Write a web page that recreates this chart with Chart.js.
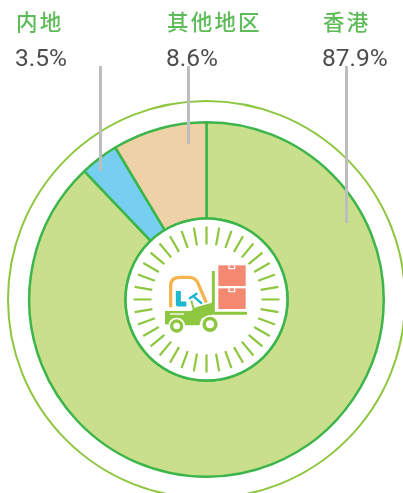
<!DOCTYPE html>
<html>
<head>
<meta charset="utf-8">
<style>
  html, body { margin: 0; padding: 0; background: #fff; overflow: hidden; }
  #wrap { width: 403px; height: 493px; }
</style>
<script src="https://cdn.jsdelivr.net/npm/chart.js@4"></script>
</head>
<body>
<div id="wrap"><canvas id="chart" width="403" height="493"></canvas></div>
<script>
const categories = ["香港", "内地", "其他地区"];
const shares = [87.9, 3.5, 8.6];
const sliceColors = ["#cadf8b", "#76cff0", "#efd1a8"];

// label column for each category: x of text, x of leader line, leader line end
const labelX = [323, 16, 167];
const leaderX = [346.5, 100.5, 188.5];
const leaderEnd = [223, 171, 144];

function drawForklift(ctx) {
  // coordinates here are in a 3x grid, it was easier to trace that way
  ctx.save();
  ctx.translate(120, 210);
  ctx.scale(1 / 3, 1 / 3);
  ctx.lineCap = "butt";
  ctx.lineJoin = "round";

  // boxes
  ctx.fillStyle = "#f58870";
  ctx.fillRect(295, 166, 82, 62);
  ctx.fillRect(295, 235, 82, 62);
  ctx.strokeStyle = "#fff";
  ctx.lineWidth = 4;
  ctx.beginPath();
  ctx.moveTo(327, 166);
  ctx.lineTo(327, 176);
  ctx.lineTo(344, 176);
  ctx.lineTo(344, 166);
  ctx.moveTo(327, 235);
  ctx.lineTo(327, 245);
  ctx.lineTo(344, 245);
  ctx.lineTo(344, 235);
  ctx.stroke();

  // cab
  ctx.strokeStyle = "#f6b44f";
  ctx.lineWidth = 10;
  ctx.beginPath();
  ctx.moveTo(152, 292);
  ctx.lineTo(152, 228);
  ctx.quadraticCurveTo(152, 202, 180, 202);
  ctx.lineTo(208, 202);
  ctx.quadraticCurveTo(226, 202, 234, 220);
  ctx.lineTo(259, 278);
  ctx.stroke();

  // driver
  ctx.strokeStyle = "#1fb6cf";
  ctx.lineWidth = 15;
  ctx.beginPath();
  ctx.moveTo(175, 243);
  ctx.lineTo(175, 282);
  ctx.lineTo(199, 282);
  ctx.stroke();
  ctx.lineWidth = 7;
  ctx.beginPath();
  ctx.moveTo(207, 266);
  ctx.lineTo(232, 250);
  ctx.moveTo(219, 258);
  ctx.lineTo(246, 281);
  ctx.stroke();

  // mast and fork
  ctx.strokeStyle = "#8dc63f";
  ctx.lineWidth = 9;
  ctx.beginPath();
  ctx.moveTo(280, 183);
  ctx.lineTo(280, 310);
  ctx.lineTo(381, 310);
  ctx.stroke();

  // steering column
  ctx.lineWidth = 6;
  ctx.beginPath();
  ctx.moveTo(214, 272);
  ctx.lineTo(222, 300);
  ctx.stroke();

  // body
  ctx.fillStyle = "#8dc63f";
  ctx.beginPath();
  ctx.moveTo(135, 303);
  ctx.lineTo(212, 303);
  ctx.lineTo(228, 292);
  ctx.lineTo(276, 278);
  ctx.lineTo(276, 325);
  ctx.lineTo(245, 325);
  ctx.lineTo(238, 346);
  ctx.lineTo(195, 346);
  ctx.lineTo(180, 330);
  ctx.lineTo(150, 346);
  ctx.lineTo(135, 342);
  ctx.closePath();
  ctx.fill();

  // highlight stripe on the body
  ctx.fillStyle = "#fff";
  ctx.fillRect(150, 310, 42, 4);

  // wheels
  [[170, 348, 20, 10], [270, 343, 23, 12]].forEach(function (w) {
    ctx.fillStyle = "#fff";
    ctx.beginPath();
    ctx.arc(w[0], w[1], w[2] + 5, 0, Math.PI * 2);
    ctx.fill();
    ctx.strokeStyle = "#8dc63f";
    ctx.lineWidth = w[2] - w[3];
    ctx.beginPath();
    ctx.arc(w[0], w[1], (w[2] + w[3]) / 2, 0, Math.PI * 2);
    ctx.stroke();
  });
  ctx.restore();
}

const decorations = {
  id: "decorations",
  afterDatasetsDraw(chart) {
    const ctx = chart.ctx;
    const arc = chart.getDatasetMeta(0).data[0];
    const cx = arc.x;
    const cy = arc.y;

    // thin outer ring
    ctx.save();
    ctx.strokeStyle = "#8dc63f";
    ctx.lineWidth = 2;
    ctx.beginPath();
    ctx.arc(cx, cy, 198.5, 0, Math.PI * 2);
    ctx.stroke();

    // white hub with tick marks
    ctx.fillStyle = "#fff";
    ctx.strokeStyle = "#3cb54a";
    ctx.lineWidth = 2.5;
    ctx.beginPath();
    ctx.arc(cx, cy, 81, 0, Math.PI * 2);
    ctx.fill();
    ctx.stroke();

    ctx.strokeStyle = "#8dc63f";
    ctx.lineWidth = 2.2;
    ctx.beginPath();
    for (let a = 0; a < 360; a += 10) {
      const r = (a * Math.PI) / 180;
      ctx.moveTo(cx + 55 * Math.cos(r), cy + 55 * Math.sin(r));
      ctx.lineTo(cx + 73 * Math.cos(r), cy + 73 * Math.sin(r));
    }
    ctx.stroke();

    drawForklift(ctx);

    // labels and leader lines
    ctx.textBaseline = "alphabetic";
    ctx.textAlign = "left";
    for (let i = 0; i < categories.length; i++) {
      ctx.fillStyle = "#5dbb58";
      ctx.font = "500 21.5px 'Noto Sans CJK SC'";
      ctx.letterSpacing = "2.2px";
      ctx.fillText(categories[i], labelX[i], 30);
      ctx.fillStyle = "#4d4d4d";
      ctx.font = "24.5px Roboto";
      ctx.letterSpacing = "0px";
      ctx.fillText(shares[i].toFixed(1) + "%", labelX[i] - 1, 65.5);
      ctx.strokeStyle = "#bdbdbd";
      ctx.lineWidth = 3;
      ctx.beginPath();
      ctx.moveTo(leaderX[i], 66);
      ctx.lineTo(leaderX[i], leaderEnd[i]);
      ctx.stroke();
    }
    ctx.restore();
  },
};

new Chart(document.getElementById("chart"), {
  type: "doughnut",
  data: {
    labels: categories,
    datasets: [
      {
        data: shares,
        backgroundColor: sliceColors,
        borderColor: "#3cb54a",
        borderWidth: 2.5,
      },
    ],
  },
  options: {
    responsive: false,
    animation: false,
    cutout: 81,
    layout: { padding: { left: 28, right: 18, top: 121, bottom: 15 } },
    plugins: { legend: { display: false }, tooltip: { enabled: false } },
  },
  plugins: [decorations],
});
</script>
</body>
</html>
